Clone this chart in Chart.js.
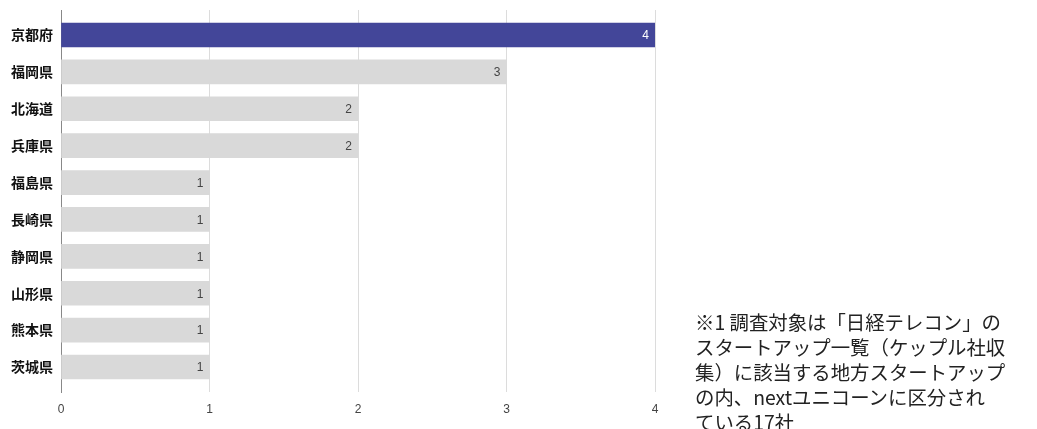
<!DOCTYPE html>
<html>
<head>
<meta charset="utf-8">
<script src="https://cdn.jsdelivr.net/npm/chart.js@4/dist/chart.umd.min.js"></script>
<style>
  html, body { margin: 0; padding: 0; background: #fff; }
  #wrap { position: relative; width: 1037px; height: 429px; overflow: hidden; }
  #note {
    position: absolute; left: 695px; top: 309px;
    font-family: "Noto Sans CJK JP", sans-serif; font-size: 19.4px; line-height: 25px;
    color: #222; white-space: nowrap;
  }
</style>
</head>
<body>
<div id="wrap">
  <canvas id="c" width="1037" height="429"></canvas>
  <div id="note">※1 調査対象は「日経テレコン」の<br>スタートアップ一覧（ケップル社収<br>集）に該当する地方スタートアップ<br>の内、nextユニコーンに区分され<br>ている17社</div>
</div>
<script>
const categories = ["京都府", "福岡県", "北海道", "兵庫県", "福島県", "長崎県", "静岡県", "山形県", "熊本県", "茨城県"];
const values = [4, 3, 2, 2, 1, 1, 1, 1, 1, 1];
const xTicks = [0, 1, 2, 3, 4];
const highlightColor = "#434699";
const baseColor = "#d9d9d9";

const barLabels = {
  id: "barLabels",
  afterDatasetsDraw(chart) {
    const ctx = chart.ctx;
    const meta = chart.getDatasetMeta(0);
    ctx.save();
    ctx.font = "12px 'Liberation Sans', Arial, sans-serif";
    ctx.textAlign = "right";
    ctx.textBaseline = "middle";
    meta.data.forEach((el, i) => {
      ctx.fillStyle = i === 0 ? "#ffffff" : "#444444";
      ctx.fillText(String(values[i]), el.x - 6, el.y + 1);
    });
    ctx.restore();
  }
};

const chart = new Chart(document.getElementById("c"), {
  type: "bar",
  data: {
    datasets: [{
      data: values.map((v, i) => ({ x: v, y: i })),
      backgroundColor: values.map((v, i) => i === 0 ? highlightColor : baseColor),
      borderWidth: 0,
      barThickness: 24
    }]
  },
  options: {
    indexAxis: "y",
    responsive: false,
    animation: false,
    devicePixelRatio: 1,
    layout: { padding: { top: 10, right: 382, bottom: 0, left: 0 } },
    plugins: { legend: { display: false }, tooltip: { enabled: false } },
    scales: {
      x: {
        type: "linear",
        min: 0, max: 4,
        afterBuildTicks: (s) => { s.ticks = xTicks.map(v => ({ value: v })); },
        afterFit: (s) => { s.height = 37; },
        grid: { color: "#dcdcdc", lineWidth: 1, drawTicks: false },
        border: { display: false },
        ticks: {
          padding: 10,
          color: "#444",
          font: { family: "'Liberation Sans', Arial, sans-serif", size: 12 }
        }
      },
      y: {
        type: "linear",
        offset: false,
        reverse: true,
        min: -0.678, max: 9.678,
        afterBuildTicks: (s) => { s.ticks = categories.map((_, i) => ({ value: i })); },
        afterFit: (s) => { s.width = 61; s.paddingTop = 0; s.paddingBottom = 0; },
        grid: { display: false, drawTicks: false, offset: false },
        border: { display: true, color: "#888", width: 1 },
        ticks: {
          padding: 8,
          color: "#111",
          font: { family: "'Noto Sans CJK JP', sans-serif", size: 14, weight: "bold" },
          callback: (v) => categories[v]
        }
      }
    }
  },
  plugins: [barLabels]
});
</script>
</body>
</html>
